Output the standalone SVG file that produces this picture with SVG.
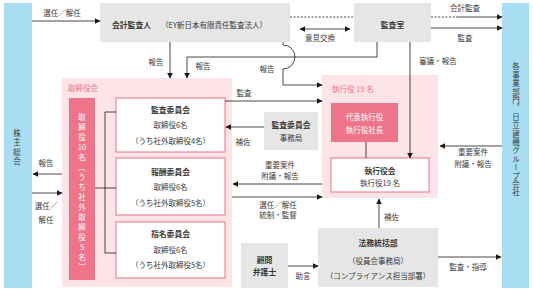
<svg xmlns="http://www.w3.org/2000/svg" width="533" height="292" viewBox="0 0 533 292">
<defs>
<marker id="ah" viewBox="0 0 10 10" refX="9" refY="5" markerWidth="6" markerHeight="6" markerUnits="userSpaceOnUse" orient="auto-start-reverse">
<path d="M0,0 L10,5 L0,10 z" fill="#231815"/>
</marker>
<style>
text{font-family:"Noto Sans CJK JP","Noto Sans",sans-serif;font-size:7.5px;fill:#3a3a3a}
.c{text-anchor:middle}
.b{font-weight:bold;font-size:7.8px}
.pk{fill:#e8758a}
.w{fill:#ffffff}
.v{writing-mode:vertical-rl}
.blue{fill:#a9ddf1}
.gray{fill:#e6e6e6}
.bg{fill:#fde4e7}
.dk{fill:#ee7489}
.box{fill:#ffffff;stroke:#e8758a;stroke-width:1}
.ln{fill:none;stroke:#231815;stroke-width:0.8}
.arr{fill:none;stroke:#231815;stroke-width:0.8;marker-end:url(#ah)}
.dash{fill:none;stroke:#231815;stroke-width:0.8;stroke-dasharray:2,1.6}
</style>
</defs>

<!-- backgrounds -->
<g id="shareholders">
<rect class="blue" x="4" y="3" width="28" height="285"/>
<text class="v c" x="17" y="148" style="letter-spacing:1.8px">株主総会</text>
</g>
<g id="business-units">
<rect class="blue" x="502" y="3" width="27" height="285"/>
<text class="v c" x="516" y="130" style="letter-spacing:0.9px">各事業部門、日立建機グループ会社</text>
</g>
<g id="board">
<rect class="bg" x="62" y="78" width="170" height="209"/>
<text class="pk" x="68" y="91">取締役会</text>
</g>
<g id="directors">
<rect class="dk" x="69" y="98" width="26" height="182"/>
<text class="v w" x="82" y="113" style="letter-spacing:2.5px">取締役</text>
<text class="w c" x="82" y="149.8">10</text>
<text class="v w" x="82" y="153" style="letter-spacing:2.5px">名（うち社外取締役</text>
<text class="w c" x="82" y="249.8">5</text>
<text class="v w" x="82" y="253" style="letter-spacing:2.5px">名）</text>
</g>
<g id="audit-committee">
<rect class="box" x="116" y="98" width="109" height="54"/>
<text class="c b" x="170.5" y="113">監査委員会</text>
<text class="c" x="170.5" y="128">取締役6名</text>
<text class="c" x="170.5" y="144">（うち社外取締役4名）</text>
</g>
<g id="compensation-committee">
<rect class="box" x="116" y="158" width="109" height="57"/>
<text class="c b" x="170.5" y="175">報酬委員会</text>
<text class="c" x="170.5" y="190">取締役6名</text>
<text class="c" x="170.5" y="206">（うち社外取締役5名）</text>
</g>
<g id="nominating-committee">
<rect class="box" x="116" y="222" width="109" height="56"/>
<text class="c b" x="170.5" y="237">指名委員会</text>
<text class="c" x="170.5" y="253">取締役6名</text>
<text class="c" x="170.5" y="268">（うち社外取締役5名）</text>
</g>
<g id="auditor">
<rect class="gray" x="100" y="3" width="190" height="39"/>
<text class="b" x="112" y="28">会計監査人</text>
<text x="161" y="28">（EY新日本有限責任監査法人）</text>
</g>
<g id="audit-office">
<rect class="gray" x="354" y="3" width="77" height="39"/>
<text class="c b" x="392.5" y="28">監査室</text>
</g>
<g id="audit-committee-office">
<rect class="gray" x="264" y="112" width="54" height="38"/>
<text class="c b" x="291" y="128">監査委員会</text>
<text class="c" x="291" y="140.5">事務局</text>
</g>
<g id="executive-officers">
<rect class="bg" x="322" y="75" width="116" height="123"/>
<text class="pk" x="332" y="92">執行役 19 名</text>
</g>
<g id="ceo">
<rect class="dk" x="331" y="103" width="67" height="39"/>
<text class="c w" x="364.5" y="120">代表執行役</text>
<text class="c w" x="364.5" y="132.5">執行役社長</text>
</g>
<g id="executive-board">
<rect class="box" x="331" y="158" width="98" height="34"/>
<text class="c b" x="380" y="174">執行役会</text>
<text class="c" x="380" y="186">執行役19 名</text>
</g>
<g id="legal">
<rect class="gray" x="318" y="228" width="120" height="59"/>
<text class="c b" x="378" y="246">法務統括部</text>
<text class="c" x="378" y="264">（役員会事務局）</text>
<text class="c" x="378" y="279">（コンプライアンス担当部署）</text>
</g>
<g id="counsel">
<rect class="gray" x="241" y="243" width="47" height="45"/>
<text class="c b" x="264.5" y="263">顧問</text>
<text class="c b" x="264.5" y="275">弁護士</text>
</g>

<g id="connectors">
<line class="arr" x1="32" y1="21" x2="100" y2="21"/>
<line class="dash" x1="290" y1="17" x2="354" y2="17"/>
<line class="dash" x1="431" y1="17" x2="458" y2="17"/>
<line class="arr" x1="458" y1="17" x2="502" y2="17"/>
<line class="arr" x1="431" y1="28" x2="502" y2="28"/>
<line class="arr" x1="300" y1="29" x2="350" y2="29" style="marker-start:url(#ah)"/>
<line class="arr" x1="170" y1="42" x2="170" y2="78"/>
<path class="arr" d="M377,42 V57 H187 V78"/>
<path class="arr" d="M283,42 V45 A12,12 0 0 1 283,69 V85 H322"/>
<line class="arr" x1="410" y1="42" x2="410" y2="158"/>
<line class="arr" x1="225" y1="101" x2="322" y2="101"/>
<line class="arr" x1="264" y1="127" x2="226" y2="127"/>
<line class="arr" x1="322" y1="184" x2="233" y2="184"/>
<line class="arr" x1="232" y1="197" x2="322" y2="197"/>
<line class="arr" x1="502" y1="146" x2="440" y2="146"/>
<line class="arr" x1="379" y1="228" x2="379" y2="199"/>
<line class="arr" x1="288" y1="266" x2="318" y2="266"/>
<line class="arr" x1="438" y1="257" x2="501" y2="257"/>
<line class="arr" x1="62" y1="174" x2="33" y2="174"/>
<line class="arr" x1="32" y1="193" x2="62" y2="193"/>
<path class="ln" d="M95,188 H116 M116,112 H105 V253 H116"/>
<line class="ln" x1="366" y1="142" x2="366" y2="158"/>
</g>

<g id="labels">
<text class="c" x="62" y="16">選任／解任</text>
<text class="c" x="465" y="11">会計監査</text>
<text class="c" x="465" y="41">監査</text>
<text class="c" x="320" y="41">意見交換</text>
<text class="c" x="156" y="65">報告</text>
<text class="c" x="203" y="69">報告</text>
<text class="c" x="267" y="72">報告</text>
<text class="c" x="438" y="64">審議・報告</text>
<text class="c" x="244" y="96">監査</text>
<text class="c" x="243" y="145">補佐</text>
<text class="c" x="280" y="168">重要案件</text>
<text class="c" x="280" y="179">附議・報告</text>
<text class="c" x="278" y="208">選任／解任</text>
<text class="c" x="278" y="218">統制・監督</text>
<text class="c" x="473" y="155">重要案件</text>
<text class="c" x="473" y="167">附議・報告</text>
<text x="384" y="220">補佐</text>
<text class="c" x="303" y="279">助言</text>
<text class="c" x="468" y="270">監査・指導</text>
<text class="c" x="46" y="166">報告</text>
<text class="c" x="46" y="209">選任／</text>
<text class="c" x="46" y="223">解任</text>
</g>
</svg>
